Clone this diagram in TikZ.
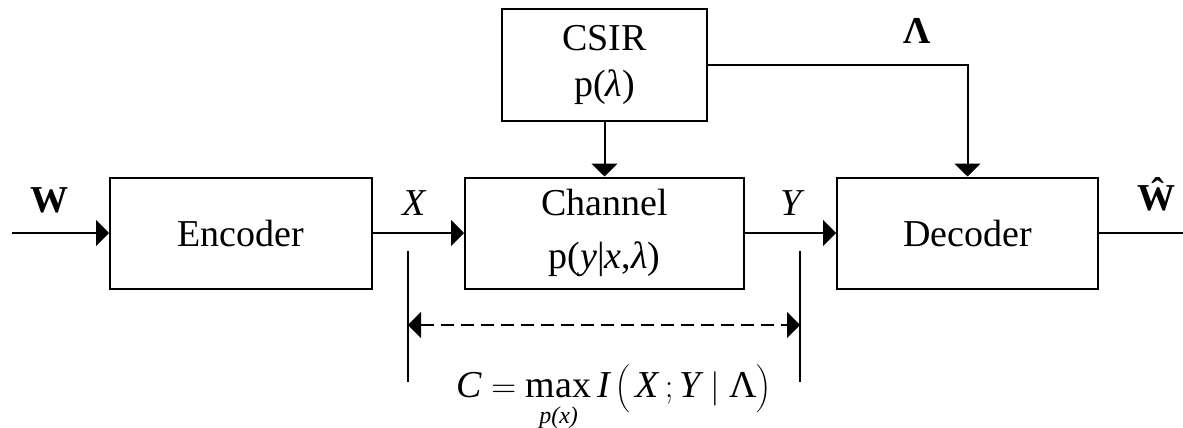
\documentclass[tikz,border=0pt]{standalone}
\usepackage{fontspec}
\setmainfont{Liberation Serif}
\usetikzlibrary{arrows.meta}
\newcommand{\fsz}{\fontsize{19}{23}\selectfont}
\begin{document}
\begin{tikzpicture}[x=0.5pt,y=-0.5pt,line width=1pt,
  blk/.style={draw,inner sep=0pt,align=center,font=\fsz},
  arr/.style={-{Triangle[length=6.5pt,width=13pt]}},
  darr/.style={{Triangle[length=6.5pt,width=13pt]}-{Triangle[length=6.5pt,width=13pt]},dash pattern=on 6.5pt off 3.5pt},
  lbl/.style={anchor=base,font=\fsz,inner sep=0pt}]
\useasboundingbox (0,0) rectangle (1183,428);
% blocks
\node[blk,minimum width=131pt,minimum height=55.5pt] (enc) at (241,233) {Encoder};
\node[blk,minimum width=139.5pt,minimum height=55.5pt] (ch) at (604.5,233) {Channel\\[3.5pt]p(\textit{y}|\textit{x},\textit{λ})};
\node[blk,minimum width=130.5pt,minimum height=55.5pt] (dec) at (967.5,233) {Decoder};
\node[blk,minimum width=102.5pt,minimum height=56pt] (csir) at (604.5,65) {CSIR\\[0pt]p(\textit{λ})};
% connectors
\coordinate (win) at (12,233);
\coordinate (wout) at (1183,233);
\draw[arr] (win) -- (enc.west);
\draw[arr] (enc.east) -- (ch.west);
\draw[arr] (ch.east) -- (dec.west);
\draw (dec.east) -- (wout);
\draw[arr] (csir.south) -- (ch.north);
\draw[arr] (csir.east) -| (dec.north);
% labels
\node[lbl] (wl) at (50,212) {\textbf{W}};
\node[lbl] (xl) at (415,215) {\textit{X}};
\node[lbl] (yl) at (793,215) {\textit{Y}};
\node[lbl] (ll) at (917,43) {\textbf{Λ}};
\node[lbl] (whl) at (1156,210) {\textbf{Ŵ}};
% capacity marker
\coordinate (m1t) at (408,251);
\coordinate (m1b) at (408,382);
\coordinate (m2t) at (800,251);
\coordinate (m2b) at (800,382);
\draw (m1t) -- (m1b);
\draw (m2t) -- (m2b);
\coordinate (d1) at (408,325);
\coordinate (d2) at (800,325);
\draw[darr] (d1) -- (d2);
\node[lbl] (cap) at (614,397) {$\mbox{\itshape C} = \mathop{\mbox{max}}\limits_{\raisebox{-7pt}{\fontsize{12}{12}\selectfont\itshape p(x)}} \mbox{\itshape I}\,\biggl(\,\mbox{\itshape X}\,;\mbox{\itshape Y}\;|\;\mbox{Λ}\biggr)$};
\end{tikzpicture}
\end{document}
